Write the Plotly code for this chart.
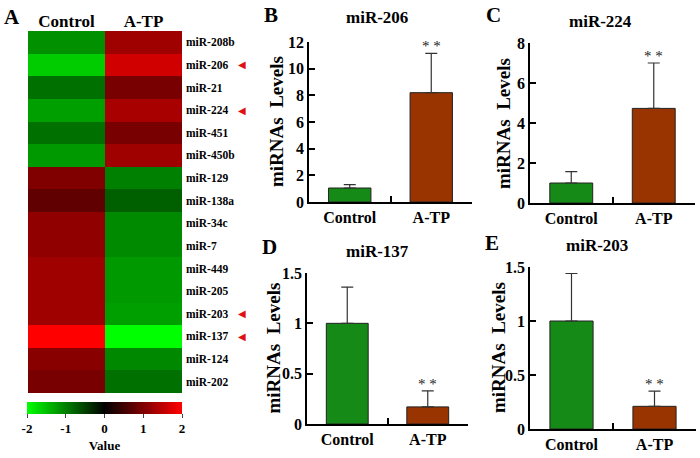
import plotly.graph_objects as go

# ---------------- data ----------------
mirnas = ["miR-208b", "miR-206", "miR-21", "miR-224", "miR-451", "miR-450b",
          "miR-129", "miR-138a", "miR-34c", "miR-7", "miR-449", "miR-205",
          "miR-203", "miR-137", "miR-124", "miR-202"]
groups = ["Control", "A-TP"]
control_vals = [-1.13, -1.6, -0.88, -1.25, -0.88, -1.2,
                1.0, 0.75, 1.13, 1.13, 1.25, 1.25, 1.25, 2.0, 1.07, 0.94]
atp_vals = [1.25, 1.63, 0.94, 1.32, 0.94, 1.25,
            -1.0, -0.75, -1.08, -1.08, -1.2, -1.2, -1.25, -2.0, -1.07, -0.88]
marked = ["miR-206", "miR-224", "miR-203", "miR-137"]

bar_titles = ["miR-206", "miR-224", "miR-137", "miR-203"]
bar_means = [[1.05, 8.2], [1.0, 4.73], [1.0, 0.17], [1.0, 0.21]]
bar_errs = [[0.25, 2.95], [0.57, 2.27], [0.36, 0.16], [0.44, 0.14]]
y_ranges = [[0, 12], [0, 8], [0, 1.5], [0, 1.5]]
y_ticks = [[0, 2, 4, 6, 8, 10, 12], [0, 2, 4, 6, 8], [0, 0.5, 1, 1.5], [0, 0.5, 1, 1.5]]
panel_letters = ["B", "C", "D", "E"]

FONT = "Times New Roman, Liberation Serif, serif"
W, H = 700, 458
GREEN = "#168a16"
BROWN = "#993300"


def px(x):
    return x / W


def py(y):
    return 1 - y / H


def f(size, weight="bold", color="black"):
    return dict(family=FONT, size=size, color=color, weight=weight)


fig = go.Figure()

# ---------------- heatmap ----------------
z = [[c, a] for c, a in zip(control_vals, atp_vals)]
fig.add_trace(go.Heatmap(
    z=z, x=groups, y=mirnas, zmin=-2, zmax=2,
    colorscale=[[0, "#00FF00"], [0.5, "#000000"], [1, "#FF0000"]],
    xaxis="x", yaxis="y", hoverinfo="skip",
    colorbar=dict(
        orientation="h", x=px(27), xanchor="left", y=py(402), yanchor="top",
        len=px(155), lenmode="fraction", thickness=12, outlinewidth=0,
        ticks="outside", ticklen=4, tickcolor="#444", tickvals=[-2, -1, 0, 1, 2],
        ticktext=["-2", "-1", "0", "1", "2"],
        tickfont=f(13),
        title=dict(text="Value", side="bottom", font=f(13)),
        xpad=0, ypad=0,
    ),
))

fig.update_layout(
    xaxis=dict(domain=[px(28), px(182)], side="top", showgrid=False, zeroline=False,
               ticks="", tickfont=f(17), anchor="y", automargin=False),
    yaxis=dict(domain=[py(393), py(31)], autorange="reversed", side="right",
               showgrid=False, zeroline=False, ticks="", anchor="x",
               ticklabelstandoff=3, automargin=False, tickfont=f(11.5)),
)

annotations = []
for m in marked:
    annotations.append(dict(xref="paper", yref="y", x=px(242), y=m, text="◀",
                            showarrow=False, font=dict(size=10, color="#e01010"),
                            xanchor="center", yanchor="middle"))
annotations.append(dict(xref="paper", yref="paper", x=px(12), y=py(17), text="A",
                        showarrow=False, xanchor="center", yanchor="middle", font=f(21)))

# ---------------- bar panels ----------------
domains = [
    ([px(309), px(472)], [py(202), py(42)]),
    ([px(530), px(695)], [py(203), py(43)]),
    ([px(307), px(468)], [py(424), py(273)]),
    ([px(530), px(696)], [py(429), py(267)]),
]
title_pos = [(377, 18), (600, 21), (377, 252), (597, 245)]
letter_pos = [(271, 15), (493, 15), (269, 247), (492, 243)]
ylab_x = [276, 503, 273, 498]

for i in range(4):
    xa = f"x{i + 2}"
    ya = f"y{i + 2}"
    fig.add_trace(go.Bar(
        x=groups, y=bar_means[i], xaxis=xa, yaxis=ya, width=0.52,
        marker=dict(color=[GREEN, BROWN], line=dict(color="#222", width=1)),
        error_y=dict(type="data", symmetric=False, array=bar_errs[i],
                     arrayminus=[0, 0], color="#333", thickness=1.2, width=6),
        showlegend=False, hoverinfo="skip",
    ))
    xd, yd = domains[i]
    fig.layout[f"xaxis{i + 2}"] = dict(
        domain=xd, anchor=ya, range=[-0.5, 1.5], showgrid=False, zeroline=False,
        showline=True, linecolor="black", linewidth=1.5,
        ticks="inside", ticklen=6, tickwidth=1.5, tickcolor="black",
        tickson="boundaries", automargin=False, tickfont=f(16),
    )
    fig.layout[f"yaxis{i + 2}"] = dict(
        domain=yd, anchor=xa, range=y_ranges[i], tickvals=y_ticks[i],
        showgrid=False, zeroline=False, showline=True, linecolor="black", linewidth=1.5,
        ticks="inside", ticklen=6, tickwidth=1.5, tickcolor="black",
        automargin=False, tickfont=f(16),
    )
    annotations.append(dict(xref="paper", yref="paper", x=px(ylab_x[i]), y=(yd[0] + yd[1]) / 2,
                            text="miRNAs&nbsp;&nbsp;Levels", textangle=-90, showarrow=False,
                            xanchor="center", yanchor="middle", font=f(19)))
    tx, ty = title_pos[i]
    annotations.append(dict(xref="paper", yref="paper", x=px(tx), y=py(ty), text=bar_titles[i],
                            showarrow=False, xanchor="center", yanchor="middle", font=f(17)))
    lx, ly = letter_pos[i]
    annotations.append(dict(xref="paper", yref="paper", x=px(lx), y=py(ly), text=panel_letters[i],
                            showarrow=False, xanchor="center", yanchor="middle", font=f(21)))
    annotations.append(dict(xref=xa, yref=ya, x=groups[1], y=bar_means[i][1] + bar_errs[i][1],
                            text="* *", showarrow=False, xanchor="center", yanchor="bottom",
                            yshift=-3, font=f(15, weight="normal", color="#222")))

fig.update_layout(
    width=W, height=H, margin=dict(l=0, r=0, t=0, b=0, autoexpand=False),
    paper_bgcolor="white", plot_bgcolor="white",
    font=dict(family=FONT, color="black"),
    annotations=annotations, showlegend=False, bargap=0.48,
)

fig.write_html("out.html", config={"displayModeBar": False},
               post_script="document.body.style.margin='0';")
